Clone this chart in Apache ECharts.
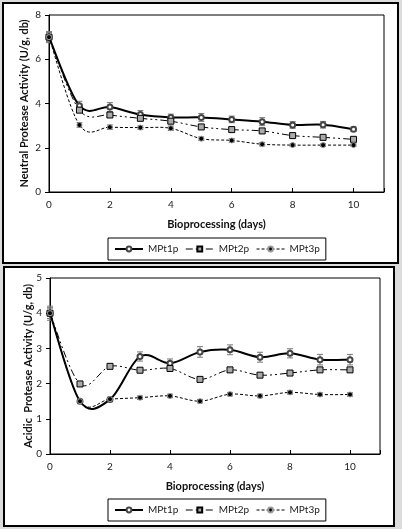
<!DOCTYPE html>
<html>
<head>
<meta charset="utf-8">
<script src="https://cdn.jsdelivr.net/npm/echarts@6/dist/echarts.min.js"></script>
<style>
html,body{margin:0;padding:0;background:#dcdcdc;}
#chart{width:402px;height:529px;}
</style>
</head>
<body>
<div id="chart"></div>
<script>
// days of bioprocessing
var days = [0, 1, 2, 3, 4, 5, 6, 7, 8, 9, 10];
var xTicks = [0, 2, 4, 6, 8, 10];

// neutral protease (top)
var neutral1 = [7.0, 3.9, 3.84, 3.5, 3.37, 3.37, 3.28, 3.18, 3.03, 3.04, 2.84];
var neutral2 = [7.0, 3.7, 3.48, 3.33, 3.2, 2.94, 2.82, 2.76, 2.55, 2.47, 2.38];
var neutral3 = [7.0, 3.03, 2.93, 2.91, 2.88, 2.41, 2.33, 2.16, 2.12, 2.12, 2.12];
var neutralErr1 = [0.25, 0.2, 0.2, 0.18, 0.15, 0.18, 0.15, 0.18, 0.15, 0.15, 0.1];
var neutralErr2 = [0.2, 0.1, 0.08, 0.08, 0.08, 0.08, 0.06, 0.08, 0.06, 0.06, 0.06];
var neutralErr3 = [0.2, 0.1, 0.1, 0.08, 0.1, 0.08, 0.08, 0.08, 0.06, 0.06, 0.06];

// acidic protease (bottom)
var acidic1 = [4.0, 1.5, 1.55, 2.77, 2.58, 2.9, 2.96, 2.75, 2.86, 2.68, 2.68];
var acidic2 = [4.0, 1.99, 2.49, 2.38, 2.43, 2.12, 2.39, 2.24, 2.3, 2.39, 2.39];
var acidic3 = [4.0, 1.5, 1.56, 1.6, 1.65, 1.5, 1.7, 1.65, 1.75, 1.69, 1.69];
var acidicErr1 = [0.2, 0.05, 0.06, 0.13, 0.12, 0.15, 0.14, 0.14, 0.13, 0.15, 0.15];
var acidicErr2 = [0.15, 0.05, 0.05, 0.05, 0.05, 0.05, 0.05, 0.05, 0.05, 0.05, 0.05];
var acidicErr3 = [0.15, 0.05, 0.05, 0.05, 0.05, 0.05, 0.05, 0.05, 0.05, 0.05, 0.05];

var names = ['MPt1p', 'MPt2p', 'MPt3p'];
var font = 'Lato, "Open Sans", sans-serif';

var lineStyles = [
    {color: '#000', width: 2, type: 'solid'},
    {color: '#000', width: 1, type: [7, 3, 2, 3, 2, 3]},
    {color: '#000', width: 1, type: [3, 2]}
];
var markStyles = [
    {symbol: 'emptyCircle', symbolSize: 5, itemStyle: {color: '#444', borderWidth: 1}},
    {symbol: 'rect', symbolSize: 6, itemStyle: {color: '#aaa', borderColor: '#000', borderWidth: 1}},
    {symbol: 'circle', symbolSize: 5, itemStyle: {color: '#000', borderColor: '#999', borderWidth: 1}}
];

function pairs(vals){
    return days.map(function(d, i){ return [d, vals[i]]; });
}
function errData(vals, errs){
    return days.map(function(d, i){ return [d, vals[i] - errs[i], vals[i] + errs[i]]; });
}

// markers only (the smoothed line is drawn by curveSeries)
function markSeries(idx, vals, k){
    var s = markStyles[k];
    return {
        name: names[k],
        type: 'line',
        xAxisIndex: idx,
        yAxisIndex: idx,
        symbol: s.symbol,
        symbolSize: s.symbolSize,
        itemStyle: s.itemStyle,
        lineStyle: {opacity: 0},
        z: 4,
        data: pairs(vals)
    };
}

// excel-like smoothed line: bezier through points, control points from neighbours
function curveSeries(idx, vals, k){
    return {
        type: 'custom',
        xAxisIndex: idx,
        yAxisIndex: idx,
        z: 3,
        silent: true,
        renderItem: function(params, api){
            var i = params.dataIndex;
            var n = days.length;
            if (i >= n - 1) return null;
            function p(j){
                j = Math.max(0, Math.min(n - 1, j));
                return api.coord([days[j], vals[j]]);
            }
            var p0 = p(i - 1), p1 = p(i), p2 = p(i + 1), p3 = p(i + 2);
            var c1 = [p1[0] + (p2[0] - p0[0]) / 6, p1[1] + (p2[1] - p0[1]) / 6];
            var c2 = [p2[0] - (p3[0] - p1[0]) / 6, p2[1] - (p3[1] - p1[1]) / 6];
            var ls = lineStyles[k];
            return {
                type: 'bezierCurve',
                shape: {x1: p1[0], y1: p1[1], x2: p2[0], y2: p2[1], cpx1: c1[0], cpy1: c1[1], cpx2: c2[0], cpy2: c2[1]},
                style: {stroke: ls.color, lineWidth: ls.width, lineDash: ls.type === 'solid' ? null : ls.type, fill: null}
            };
        },
        encode: {x: 0, y: 1},
        data: pairs(vals)
    };
}

function errSeries(idx, vals, errs){
    return {
        type: 'custom',
        xAxisIndex: idx,
        yAxisIndex: idx,
        z: 2,
        silent: true,
        renderItem: function(params, api){
            var x = api.value(0);
            var lo = api.coord([x, api.value(1)]);
            var hi = api.coord([x, api.value(2)]);
            var w = 3;
            var st = {stroke: '#777', lineWidth: 1};
            return {
                type: 'group',
                children: [
                    {type: 'line', shape: {x1: lo[0], y1: lo[1], x2: hi[0], y2: hi[1]}, style: st},
                    {type: 'line', shape: {x1: lo[0] - w, y1: lo[1], x2: lo[0] + w, y2: lo[1]}, style: st},
                    {type: 'line', shape: {x1: hi[0] - w, y1: hi[1], x2: hi[0] + w, y2: hi[1]}, style: st}
                ]
            };
        },
        encode: {x: 0, y: [1, 2]},
        data: errData(vals, errs)
    };
}

function xAxis(idx){
    return {
        type: 'value', gridIndex: idx, min: 0, max: 11, interval: 2,
        name: 'Bioprocessing (days)', nameLocation: 'middle', nameGap: 27,
        nameTextStyle: {fontFamily: font, fontWeight: 'bold', fontSize: 11, color: '#111'},
        axisLine: {lineStyle: {color: '#000', width: 1}},
        axisTick: {inside: true, length: 4, lineStyle: {color: '#000'}},
        axisLabel: {fontFamily: font, fontSize: 10, color: '#222', margin: 8,
            formatter: function(v){ return xTicks.indexOf(v) >= 0 ? String(v) : ''; }},
        splitLine: {show: false}
    };
}
function yAxis(idx, max, name, gap){
    return {
        type: 'value', gridIndex: idx, min: 0, max: max, interval: max === 8 ? 2 : 1,
        name: name, nameLocation: 'middle', nameGap: gap, nameMoveOverlap: false,
        nameTextStyle: {fontFamily: font, fontWeight: 'bold', fontSize: 11, color: '#111'},
        axisLine: {show: true, lineStyle: {color: '#000', width: 1}},
        axisTick: {show: true, length: 4, lineStyle: {color: '#000'}},
        axisLabel: {fontFamily: font, fontSize: 10, color: '#222', margin: 8},
        splitLine: {show: false}
    };
}

function legend(top){
    return {
        left: 108, top: top,
        data: names.map(function(nm, k){
            return {name: nm, lineStyle: {opacity: 1, color: '#000', width: lineStyles[k].width, type: lineStyles[k].type}};
        }),
        itemWidth: 28, itemHeight: 6, itemGap: 7,
        padding: [6, 6, 6, 6],
        borderColor: '#000', borderWidth: 1,
        backgroundColor: '#fff',
        textStyle: {fontFamily: font, fontSize: 10, color: '#222'}
    };
}

var chart = echarts.init(document.getElementById('chart'));
chart.setOption({
    backgroundColor: '#dcdcdc',
    animation: false,
    graphic: [
        {type: 'rect', z: -10, shape: {x: 3, y: 3, width: 395, height: 260}, style: {fill: '#fff', stroke: '#000', lineWidth: 2}},
        {type: 'rect', z: -10, shape: {x: 4, y: 267, width: 390, height: 259}, style: {fill: '#fff', stroke: '#000', lineWidth: 2}}
    ],
    grid: [
        {left: 49, top: 15, width: 335, height: 177, show: true, borderColor: '#000', borderWidth: 1, backgroundColor: 'transparent'},
        {left: 50, top: 278, width: 330, height: 176, show: true, borderColor: '#000', borderWidth: 1, backgroundColor: 'transparent'}
    ],
    xAxis: [xAxis(0), xAxis(1)],
    yAxis: [
        yAxis(0, 8, 'Neutral Protease Activity (U/g, db)', 19),
        yAxis(1, 5, 'Acidic  Protease Activity (U/g, db)', 16)
    ],
    legend: [legend(238), legend(499)],
    series: [
        errSeries(0, neutral1, neutralErr1),
        errSeries(0, neutral2, neutralErr2),
        errSeries(0, neutral3, neutralErr3),
        markSeries(0, neutral1, 0),
        markSeries(0, neutral2, 1),
        markSeries(0, neutral3, 2),
        curveSeries(0, neutral1, 0),
        curveSeries(0, neutral2, 1),
        curveSeries(0, neutral3, 2),
        errSeries(1, acidic1, acidicErr1),
        errSeries(1, acidic2, acidicErr2),
        errSeries(1, acidic3, acidicErr3),
        markSeries(1, acidic1, 0),
        markSeries(1, acidic2, 1),
        markSeries(1, acidic3, 2),
        curveSeries(1, acidic1, 0),
        curveSeries(1, acidic2, 1),
        curveSeries(1, acidic3, 2)
    ]
});
</script>
</body>
</html>
